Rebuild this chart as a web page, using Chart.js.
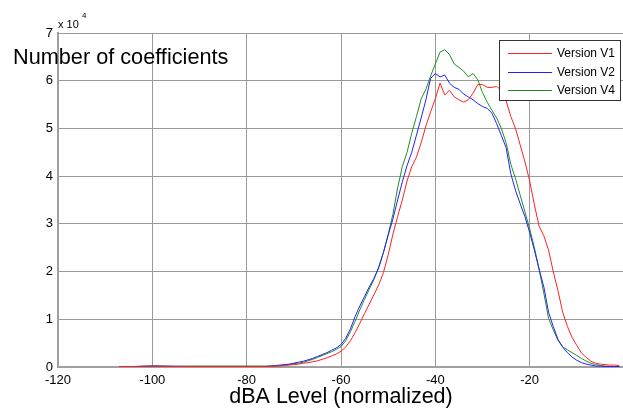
<!DOCTYPE html>
<html>
<head>
<meta charset="utf-8">
<script src="https://cdn.jsdelivr.net/npm/chart.js@4.4.1/dist/chart.umd.min.js"></script>
<style>
  html, body { margin: 0; padding: 0; background: #fff; overflow: hidden; }
  #wrap { width: 623px; height: 408px; overflow: hidden; }
</style>
</head>
<body>
<div id="wrap"><canvas id="levels" width="630" height="408"></canvas></div>
<script>
// dBA levels (normalized) of the sample points
const dbLevels = [
    -107, -104, -100, -96, -92, -88, -84, -80, -76,
    -75, -74, -73, -72, -71, -70, -69, -68, -67, -66,
    -65, -64, -63, -62, -61, -60, -59, -58, -57, -56,
    -55, -54, -53, -52, -51, -50, -49, -48, -47, -46,
    -45, -44, -43, -42, -41, -40, -39, -38, -37, -36,
    -35, -34, -33, -32, -31, -30, -29, -28, -27, -26,
    -25, -24, -23, -22, -21, -20, -19, -18, -17, -16,
    -15, -14, -13, -12, -11, -10, -9, -8, -7, -6,
    -5, -4, -3, -2, -1
];

// Number of coefficients, in units of 10^4
const versionV1 = [
    0.01, 0.01, 0.02, 0.01, 0.01, 0.01, 0.01, 0.01, 0.01,
    0.01, 0.02, 0.02, 0.03, 0.04, 0.05, 0.06, 0.08, 0.09, 0.11,
    0.13, 0.16, 0.19, 0.23, 0.27, 0.33, 0.42, 0.55, 0.72, 0.92,
    1.12, 1.32, 1.52, 1.72, 1.98, 2.35, 2.78, 3.15, 3.50, 3.90,
    4.20, 4.40, 4.70, 5.05, 5.35, 5.62, 5.95, 5.70, 5.80, 5.66,
    5.60, 5.55, 5.60, 5.74, 5.92, 5.92, 5.86, 5.86, 5.88, 5.80,
    5.58, 5.25, 5.00, 4.65, 4.30, 3.90, 3.40, 2.95, 2.75, 2.45,
    2.00, 1.60, 1.15, 0.85, 0.62, 0.45, 0.29, 0.20, 0.12, 0.08,
    0.06, 0.05, 0.04, 0.04, 0.03
];

const versionV2 = [
    0.00, 0.01, 0.02, 0.02, 0.01, 0.01, 0.01, 0.01, 0.01,
    0.02, 0.03, 0.04, 0.05, 0.06, 0.08, 0.10, 0.12, 0.15, 0.18,
    0.22, 0.26, 0.30, 0.35, 0.40, 0.47, 0.60, 0.80, 1.06, 1.28,
    1.48, 1.68, 1.86, 2.08, 2.40, 2.76, 3.10, 3.50, 3.88, 4.22,
    4.50, 4.86, 5.22, 5.60, 6.05, 6.15, 6.08, 6.12, 5.95, 5.86,
    5.82, 5.72, 5.66, 5.60, 5.52, 5.46, 5.42, 5.32, 5.10, 4.85,
    4.60, 4.05, 3.70, 3.42, 3.15, 2.82, 2.45, 2.05, 1.68, 1.15,
    0.85, 0.58, 0.42, 0.30, 0.21, 0.14, 0.09, 0.06, 0.04, 0.02,
    0.02, 0.01, 0.01, 0.01, 0.01
];

const versionV4 = [
    0.00, 0.01, 0.02, 0.01, 0.02, 0.02, 0.02, 0.02, 0.02,
    0.02, 0.02, 0.03, 0.04, 0.05, 0.07, 0.08, 0.10, 0.13, 0.16,
    0.20, 0.24, 0.28, 0.32, 0.37, 0.43, 0.55, 0.74, 0.96, 1.20,
    1.42, 1.63, 1.84, 2.10, 2.40, 2.78, 3.20, 3.75, 4.20, 4.50,
    4.90, 5.25, 5.62, 5.82, 6.10, 6.35, 6.60, 6.65, 6.55, 6.35,
    6.28, 6.20, 6.08, 6.15, 6.02, 5.75, 5.55, 5.38, 5.22, 5.00,
    4.70, 4.25, 3.95, 3.60, 3.25, 2.90, 2.50, 2.05, 1.55, 1.02,
    0.78, 0.56, 0.42, 0.36, 0.30, 0.24, 0.18, 0.12, 0.08, 0.05,
    0.03, 0.02, 0.01, 0.01, 0.01
];

const seriesLabels = ['Version V1', 'Version V2', 'Version V4'];
const seriesColors = ['#ff2020', '#2020ff', '#1f8f1f'];

const FONT = '"Liberation Sans", Arial, sans-serif';

const toPoints = (values) => dbLevels.map((x, i) => ({ x: x, y: values[i] }));

// Draws the horizontal y title, the exponent and the boxed legend (MATLAB look)
const matlabDecor = {
    id: 'matlabDecor',
    afterDraw(chart) {
        const ctx = chart.ctx;
        ctx.save();
        ctx.fillStyle = '#000';
        ctx.textBaseline = 'alphabetic';
        ctx.textAlign = 'left';

        ctx.font = '21.7px ' + FONT;
        ctx.fillText('Number of coefficients', 13, 64);

        ctx.font = '11px ' + FONT;
        ctx.fillText('x 10', 58, 28);
        ctx.font = '8px ' + FONT;
        ctx.fillText('4', 82, 18);

        // legend box
        const box = { left: 499, top: 40, width: 121, height: 60 };
        ctx.fillStyle = '#fff';
        ctx.fillRect(box.left, box.top, box.width, box.height);
        ctx.strokeStyle = '#333';
        ctx.lineWidth = 1;
        ctx.strokeRect(box.left + 0.5, box.top + 0.5, box.width, box.height);

        ctx.font = '12px ' + FONT;
        ctx.textBaseline = 'middle';
        seriesLabels.forEach((label, i) => {
            const y = Math.round(53 + i * 18.5);
            ctx.fillStyle = seriesColors[i];
            ctx.fillRect(508, y, 44, 1);
            ctx.fillStyle = '#000';
            ctx.fillText(label, 557, y + 1);
        });
        ctx.restore();
    }
};

document.addEventListener('DOMContentLoaded', () => {
    const ctx = document.querySelector('#levels').getContext('2d');

    new Chart(ctx, {
        type: 'line',
        data: {
            datasets: [versionV1, versionV2, versionV4].map((values, i) => ({
                label: seriesLabels[i],
                data: toPoints(values),
                borderColor: seriesColors[i],
                borderWidth: 1,
                pointRadius: 0,
                tension: 0,
                fill: false
            }))
        },
        options: {
            responsive: false,
            animation: false,
            devicePixelRatio: 1,
            layout: { padding: { top: 33, left: 0, right: 0, bottom: 0 } },
            plugins: {
                legend: { display: false },
                tooltip: { enabled: false }
            },
            scales: {
                x: {
                    type: 'linear',
                    min: -120,
                    max: 0,
                    afterFit: (scale) => { scale.height = 41; },
                    ticks: {
                        stepSize: 20,
                        padding: 6,
                        color: '#000',
                        font: { size: 13, family: FONT },
                        callback: (value) => value === 0 ? '' : value
                    },
                    grid: { color: '#9a9a9a', drawTicks: false },
                    border: { color: '#a0a0a0', width: 2 },
                    title: {
                        display: true,
                        text: 'dBA Level (normalized)',
                        color: '#000',
                        font: { size: 21.5, family: FONT, lineHeight: 1 },
                        padding: { top: 0, bottom: 0 }
                    }
                },
                y: {
                    min: 0,
                    max: 7,
                    afterFit: (scale) => { scale.width = 58; },
                    ticks: {
                        stepSize: 1,
                        padding: 5,
                        color: '#000',
                        font: { size: 13, family: FONT }
                    },
                    grid: { color: '#9a9a9a', drawTicks: false },
                    border: { color: '#a0a0a0', width: 2 }
                }
            }
        },
        plugins: [matlabDecor]
    });
});
</script>
</body>
</html>
